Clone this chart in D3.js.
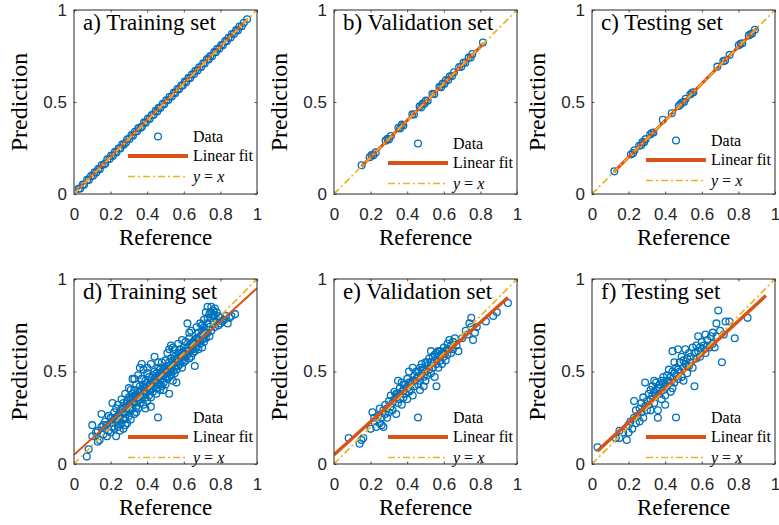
<!DOCTYPE html>
<html>
<head>
<meta charset="utf-8">
<script src="https://cdn.jsdelivr.net/npm/d3@7"></script>
<style>
  body { margin: 0; background: #fff; }
</style>
</head>
<body>
<svg id="chart" width="779" height="525"></svg>
<script>
// ---- data: [reference, prediction] ----
const trainA = [[0.025,0.028],[0.034,0.030],[0.048,0.052],[0.055,0.050],[0.072,0.078],[0.081,0.076],[0.093,0.097],[0.104,0.099],[0.112,0.118],[0.121,0.116],[0.133,0.137],[0.141,0.135],[0.152,0.158],[0.163,0.160],[0.171,0.166],[0.182,0.188],[0.194,0.190],[0.203,0.209],[0.212,0.207],[0.224,0.229],[0.232,0.226],[0.245,0.249],[0.253,0.247],[0.264,0.270],[0.272,0.268],[0.284,0.280],[0.291,0.297],[0.303,0.299],[0.314,0.320],[0.322,0.316],[0.333,0.338],[0.345,0.341],[0.352,0.358],[0.364,0.360],[0.371,0.366],[0.383,0.389],[0.392,0.387],[0.404,0.410],[0.413,0.408],[0.425,0.429],[0.434,0.430],[0.446,0.452],[0.455,0.449],[0.463,0.468],[0.472,0.467],[0.485,0.490],[0.493,0.488],[0.504,0.509],[0.515,0.511],[0.523,0.528],[0.534,0.530],[0.546,0.551],[0.553,0.548],[0.565,0.570],[0.574,0.569],[0.586,0.590],[0.594,0.589],[0.605,0.611],[0.613,0.608],[0.626,0.631],[0.635,0.630],[0.644,0.649],[0.656,0.652],[0.663,0.669],[0.675,0.671],[0.684,0.689],[0.695,0.690],[0.706,0.711],[0.714,0.709],[0.727,0.733],[0.736,0.731],[0.745,0.750],[0.754,0.749],[0.766,0.771],[0.775,0.770],[0.783,0.789],[0.794,0.790],[0.805,0.810],[0.813,0.808],[0.826,0.831],[0.835,0.830],[0.844,0.849],[0.856,0.851],[0.863,0.869],[0.874,0.870],[0.886,0.891],[0.895,0.889],[0.904,0.910],[0.917,0.912],[0.928,0.931],[0.946,0.950]];

const validB = [[0.151,0.156],[0.195,0.200],[0.205,0.212],[0.215,0.210],[0.228,0.226],[0.282,0.290],[0.292,0.300],[0.300,0.296],[0.311,0.315],[0.352,0.360],[0.361,0.356],[0.371,0.377],[0.379,0.372],[0.428,0.433],[0.437,0.432],[0.468,0.476],[0.476,0.470],[0.485,0.491],[0.494,0.490],[0.502,0.508],[0.512,0.507],[0.538,0.544],[0.548,0.543],[0.576,0.582],[0.585,0.580],[0.594,0.600],[0.603,0.598],[0.612,0.619],[0.624,0.620],[0.633,0.639],[0.645,0.641],[0.656,0.662],[0.684,0.690],[0.695,0.691],[0.708,0.714],[0.718,0.713],[0.736,0.741],[0.747,0.742],[0.756,0.761],[0.814,0.823]];

const testC = [[0.122,0.123],[0.213,0.215],[0.224,0.222],[0.232,0.238],[0.258,0.262],[0.268,0.265],[0.276,0.282],[0.285,0.281],[0.293,0.298],[0.318,0.323],[0.327,0.331],[0.336,0.334],[0.387,0.403],[0.436,0.439],[0.474,0.478],[0.483,0.487],[0.492,0.497],[0.503,0.500],[0.512,0.518],[0.537,0.541],[0.546,0.549],[0.554,0.553],[0.685,0.692],[0.718,0.722],[0.727,0.725],[0.752,0.756],[0.802,0.808],[0.812,0.816],[0.821,0.819],[0.857,0.862],[0.866,0.868],[0.875,0.872],[0.890,0.893]];

const trainD = [[0.07,0.04],[0.08,0.08],[0.10,0.21],[0.10,0.15],[0.12,0.17],[0.13,0.18],[0.14,0.13],[0.15,0.27],[0.15,0.20],[0.13,0.12],
  [0.16,0.16],[0.17,0.19],[0.17,0.23],[0.18,0.21],[0.18,0.15],[0.19,0.26],[0.19,0.18],[0.20,0.22],[0.20,0.17],[0.21,0.33],[0.21,0.25],[0.21,0.20],[0.22,0.28],[0.22,0.19],[0.22,0.24],[0.23,0.15],[0.23,0.30],[0.23,0.22],[0.24,0.26],[0.24,0.20],[0.24,0.32],[0.25,0.18],[0.25,0.28],[0.25,0.24],[0.16,0.21],
  [0.26,0.35],[0.26,0.22],[0.26,0.30],[0.27,0.27],[0.27,0.19],[0.27,0.33],[0.28,0.25],[0.28,0.31],[0.28,0.38],[0.29,0.28],[0.29,0.22],[0.29,0.34],[0.30,0.30],[0.30,0.26],[0.30,0.36],[0.30,0.41],[0.31,0.29],[0.31,0.33],[0.31,0.24],[0.32,0.46],[0.32,0.35],[0.32,0.30],[0.32,0.38],[0.33,0.27],[0.33,0.33],[0.33,0.40],[0.34,0.31],[0.34,0.36],[0.34,0.43],[0.34,0.28],[0.35,0.34],[0.35,0.39],[0.35,0.30],[0.28,0.21],[0.31,0.40],
  [0.36,0.52],[0.36,0.37],[0.36,0.33],[0.36,0.42],[0.37,0.35],[0.37,0.40],[0.37,0.46],[0.38,0.38],[0.38,0.32],[0.38,0.43],[0.38,0.51],[0.39,0.36],[0.39,0.41],[0.39,0.45],[0.40,0.39],[0.40,0.34],[0.40,0.44],[0.40,0.49],[0.41,0.42],[0.41,0.37],[0.41,0.47],[0.42,0.40],[0.42,0.45],[0.42,0.36],[0.42,0.54],[0.43,0.43],[0.43,0.48],[0.43,0.39],[0.44,0.58],[0.44,0.42],[0.44,0.46],[0.44,0.50],[0.45,0.41],[0.45,0.45],[0.45,0.38],[0.45,0.49],[0.39,0.30],[0.42,0.31],[0.37,0.54],
  [0.46,0.44],[0.46,0.48],[0.46,0.52],[0.47,0.43],[0.47,0.47],[0.47,0.51],[0.47,0.40],[0.48,0.46],[0.48,0.50],[0.48,0.55],[0.49,0.44],[0.49,0.48],[0.49,0.52],[0.50,0.47],[0.50,0.51],[0.50,0.43],[0.50,0.56],[0.51,0.49],[0.51,0.53],[0.51,0.46],[0.51,0.60],[0.52,0.38],[0.52,0.50],[0.52,0.55],[0.52,0.47],[0.53,0.52],[0.53,0.48],[0.53,0.57],[0.53,0.64],[0.54,0.50],[0.54,0.54],[0.54,0.45],[0.55,0.53],[0.55,0.58],[0.55,0.49],[0.55,0.62],[0.49,0.40],[0.56,0.44],[0.46,0.55],[0.48,0.42],
  [0.56,0.55],[0.56,0.51],[0.57,0.57],[0.57,0.53],[0.57,0.60],[0.58,0.54],[0.58,0.58],[0.58,0.62],[0.59,0.56],[0.59,0.52],[0.59,0.60],[0.60,0.58],[0.60,0.63],[0.60,0.55],[0.61,0.60],[0.61,0.56],[0.61,0.66],[0.62,0.59],[0.62,0.63],[0.62,0.76],[0.63,0.61],[0.63,0.57],[0.63,0.68],[0.64,0.62],[0.64,0.58],[0.64,0.72],[0.65,0.64],[0.65,0.60],[0.65,0.66],[0.66,0.53],
  [0.66,0.65],[0.66,0.61],[0.67,0.68],[0.67,0.63],[0.67,0.74],[0.68,0.66],[0.68,0.62],[0.68,0.71],[0.69,0.65],[0.69,0.69],[0.69,0.76],[0.70,0.67],[0.70,0.72],[0.70,0.63],[0.71,0.70],[0.71,0.66],[0.71,0.78],[0.72,0.73],[0.72,0.68],[0.72,0.82],[0.73,0.71],[0.73,0.76],[0.74,0.74],[0.74,0.69],[0.75,0.79],
  [0.75,0.72],[0.75,0.85],[0.76,0.77],[0.76,0.83],[0.77,0.74],[0.77,0.80],[0.78,0.78],[0.78,0.82],[0.79,0.75],[0.79,0.80],[0.80,0.79],[0.80,0.76],[0.81,0.77],[0.82,0.78],[0.83,0.80],[0.84,0.76],[0.85,0.79],[0.86,0.80],[0.88,0.81],[0.73,0.85],
  [0.30,0.32],[0.31,0.35],[0.32,0.33],[0.33,0.36],[0.34,0.34],[0.35,0.36],[0.36,0.39],[0.37,0.37],[0.38,0.41],[0.39,0.39],[0.40,0.42],[0.41,0.40],[0.42,0.43],[0.43,0.41],[0.44,0.44],[0.45,0.47],[0.46,0.46],[0.47,0.49],[0.48,0.48],[0.49,0.50],[0.50,0.49],[0.51,0.51],[0.52,0.53],[0.53,0.50],[0.54,0.56],[0.55,0.55],[0.56,0.57],[0.57,0.55],[0.58,0.60],[0.59,0.58],[0.60,0.61],[0.61,0.58],[0.62,0.61],[0.63,0.64],[0.64,0.65],[0.65,0.62],[0.66,0.67],[0.67,0.66],[0.68,0.68],[0.69,0.67],[0.70,0.70],[0.71,0.68],[0.72,0.71],[0.26,0.27],[0.27,0.24],[0.28,0.28],[0.29,0.31],[0.23,0.25],[0.24,0.23],[0.20,0.25],[0.73,0.79],[0.74,0.81],[0.76,0.80],[0.70,0.75],[0.71,0.74],[0.75,0.82],[0.77,0.84],[0.35,0.48],[0.33,0.46],[0.40,0.52],[0.52,0.62],[0.54,0.63],[0.57,0.65],[0.59,0.67],[0.63,0.71]];

const validE = [[0.08,0.14],[0.14,0.11],[0.16,0.14],[0.15,0.13],[0.20,0.19],[0.21,0.28],[0.22,0.23],[0.22,0.25],[0.23,0.20],[0.24,0.26],[0.25,0.22],[0.25,0.30],[0.26,0.25],[0.27,0.20],[0.27,0.29],[0.28,0.27],[0.28,0.32],[0.29,0.30],[0.29,0.25],[0.30,0.34],[0.30,0.28],[0.31,0.31],[0.31,0.37],[0.32,0.33],[0.32,0.29],[0.33,0.39],[0.33,0.35],[0.34,0.27],[0.34,0.36],[0.35,0.45],[0.35,0.38],[0.35,0.33],[0.36,0.41],[0.36,0.35],[0.37,0.39],[0.37,0.44],[0.37,0.32],[0.38,0.40],[0.38,0.36],[0.39,0.43],[0.39,0.38],[0.40,0.41],[0.40,0.35],[0.40,0.46],[0.41,0.50],[0.41,0.39],[0.42,0.44],[0.42,0.40],[0.43,0.45],[0.43,0.37],[0.44,0.48],[0.44,0.42],[0.45,0.46],[0.45,0.50],[0.46,0.43],[0.46,0.47],[0.47,0.52],[0.47,0.45],[0.47,0.40],[0.48,0.49],[0.48,0.54],[0.49,0.47],[0.49,0.51],[0.50,0.55],[0.50,0.45],[0.50,0.50],[0.51,0.48],[0.51,0.53],[0.52,0.57],[0.52,0.51],[0.53,0.49],[0.53,0.55],[0.54,0.58],[0.54,0.52],[0.55,0.47],[0.55,0.56],[0.56,0.60],[0.56,0.42],[0.56,0.54],[0.57,0.58],[0.57,0.52],[0.58,0.61],[0.58,0.56],[0.59,0.60],[0.59,0.54],[0.60,0.63],[0.60,0.58],[0.61,0.56],[0.61,0.61],[0.62,0.65],[0.62,0.59],[0.63,0.62],[0.63,0.67],[0.64,0.64],[0.64,0.60],[0.65,0.66],[0.65,0.62],[0.66,0.68],[0.67,0.64],[0.68,0.61],[0.70,0.68],[0.72,0.72],[0.73,0.70],[0.74,0.76],[0.75,0.79],[0.75,0.74],[0.76,0.67],[0.77,0.71],[0.78,0.74],[0.83,0.77],[0.87,0.80],[0.89,0.82],[0.95,0.87],[0.26,0.21],[0.43,0.52],[0.49,0.42],[0.53,0.61],
  [0.34,0.38],[0.36,0.38],[0.38,0.43],[0.41,0.44],[0.44,0.45],[0.46,0.50],[0.48,0.51],[0.51,0.55],[0.55,0.59],[0.57,0.61],[0.60,0.60],[0.62,0.62]];

const testF = [[0.03,0.09],[0.13,0.14],[0.15,0.14],[0.15,0.18],[0.17,0.17],[0.19,0.13],[0.20,0.17],[0.20,0.21],[0.21,0.23],[0.22,0.19],[0.23,0.34],[0.23,0.25],[0.24,0.22],[0.24,0.29],[0.25,0.26],[0.26,0.23],[0.26,0.30],[0.27,0.28],[0.27,0.33],[0.28,0.25],[0.28,0.36],[0.29,0.31],[0.29,0.44],[0.30,0.34],[0.30,0.29],[0.31,0.38],[0.31,0.32],[0.32,0.35],[0.32,0.40],[0.32,0.29],[0.33,0.37],[0.33,0.42],[0.34,0.39],[0.34,0.33],[0.35,0.44],[0.35,0.37],[0.36,0.41],[0.36,0.29],[0.36,0.25],[0.37,0.43],[0.37,0.38],[0.38,0.45],[0.38,0.35],[0.39,0.40],[0.39,0.47],[0.40,0.43],[0.40,0.37],[0.41,0.48],[0.41,0.42],[0.42,0.51],[0.42,0.45],[0.43,0.39],[0.43,0.47],[0.44,0.61],[0.44,0.50],[0.45,0.44],[0.45,0.55],[0.46,0.48],[0.46,0.52],[0.47,0.62],[0.47,0.46],[0.48,0.50],[0.48,0.55],[0.49,0.47],[0.49,0.58],[0.50,0.52],[0.50,0.45],[0.51,0.62],[0.51,0.54],[0.52,0.49],[0.52,0.57],[0.53,0.60],[0.53,0.53],[0.54,0.58],[0.55,0.63],[0.55,0.52],[0.56,0.42],[0.56,0.60],[0.57,0.64],[0.57,0.57],[0.58,0.61],[0.58,0.69],[0.59,0.58],[0.60,0.66],[0.60,0.62],[0.61,0.64],[0.62,0.70],[0.62,0.60],[0.63,0.67],[0.64,0.63],[0.65,0.69],[0.66,0.71],[0.66,0.65],[0.67,0.63],[0.68,0.69],[0.68,0.76],[0.69,0.83],[0.70,0.72],[0.71,0.55],[0.72,0.70],[0.73,0.77],[0.75,0.77],[0.78,0.68],[0.85,0.79],[0.40,0.32],[0.44,0.41],[0.34,0.45],
  [0.35,0.40],[0.37,0.41],[0.39,0.44],[0.41,0.45],[0.43,0.44],[0.45,0.49],[0.47,0.51],[0.50,0.56],[0.52,0.53],[0.54,0.55],[0.59,0.63],[0.63,0.64]];

const panelTitles = ["a) Training set", "b) Validation set", "c) Testing set",
                     "d) Training set", "e) Validation set", "f) Testing set"];
// linear fit: slope, intercept and the reference span it is drawn over
const fitSlope     = [1.000, 1.000, 1.000, 0.900, 0.895, 0.913];
const fitIntercept = [0.002, 0.000, 0.000, 0.050, 0.050, 0.043];
const fitFrom      = [0.02, 0.15, 0.12, 0.00, 0.00, 0.03];
const fitTo        = [0.95, 0.82, 0.90, 1.00, 0.95, 0.95];
const xTicks = [0, 0.2, 0.4, 0.6, 0.8, 1];
const yTicks = [0, 0.5, 1];
const legendNames = ["Data", "Linear fit"];

const datasets = [trainA, validB, testC, trainD, validE, testF];

// ---- layout ----
const colX = [74, 334, 592];
const rowY = [10, 279];
const W = 183;
const rowH = [184, 185];
const legendFitY = [146, 153, 150, 158, 158, 158];
const fitWidth = [2.5, 3, 3, 2, 3.5, 3.5];

const BLUE = "#0072BD", ORANGE = "#D95319", YELLOW = "#EDB120";
const serif = "'Liberation Serif','Times New Roman',serif";
const sans = "'Liberation Sans',Arial,Helvetica,sans-serif";
const dashDot = "7,3,2,3";

const svg = d3.select("#chart");

datasets.forEach((data, i) => {
  const col = i % 3, row = Math.floor(i / 3);
  const h = rowH[row];
  const g = svg.append("g").attr("transform", `translate(${colX[col]},${rowY[row]})`);

  const x = d3.scaleLinear().domain([0, 1]).range([0, W]);
  const y = d3.scaleLinear().domain([0, 1]).range([h, 0]);

  // axes with inward ticks on all four sides
  const fmt = d3.format("");
  const bottom = g.append("g").attr("transform", `translate(0,${h})`)
    .call(d3.axisBottom(x).tickValues(xTicks).tickSizeInner(-2.5).tickSizeOuter(0).tickPadding(14).tickFormat(fmt));
  const left = g.append("g")
    .call(d3.axisLeft(y).tickValues(yTicks).tickSizeInner(-2.5).tickSizeOuter(0).tickPadding(7).tickFormat(fmt));
  g.append("g")
    .call(d3.axisTop(x).tickValues(xTicks).tickSizeInner(-2.5).tickSizeOuter(0).tickFormat(""));
  g.append("g").attr("transform", `translate(${W},0)`)
    .call(d3.axisRight(y).tickValues(yTicks).tickSizeInner(-2.5).tickSizeOuter(0).tickFormat(""));
  g.selectAll(".domain").remove();
  g.selectAll(".tick line").attr("stroke", "#262626").attr("stroke-width", 0.8);
  [bottom, left].forEach(a => a.selectAll("text")
    .attr("font-family", sans).attr("font-size", 17).attr("fill", "#262626"));

  const clipId = "clip" + i;
  g.append("clipPath").attr("id", clipId)
    .append("rect").attr("width", W).attr("height", h);
  const plot = g.append("g").attr("clip-path", `url(#${clipId})`);

  // data circles
  plot.selectAll("circle").data(data).enter().append("circle")
    .attr("cx", d => x(d[0])).attr("cy", d => y(d[1])).attr("r", 3.4)
    .attr("fill", "none").attr("stroke", BLUE).attr("stroke-width", 1.3);

  // linear fit
  const fitPts = [fitFrom[i], fitTo[i]].map(v => [v, fitIntercept[i] + fitSlope[i] * v]);
  plot.append("path").attr("d", d3.line().x(d => x(d[0])).y(d => y(d[1]))(fitPts))
    .attr("stroke", ORANGE).attr("stroke-width", fitWidth[i]).attr("fill", "none");

  // y = x reference line
  plot.append("path").attr("d", d3.line().x(d => x(d[0])).y(d => y(d[1]))([[0, 0], [1, 1]]))
    .attr("stroke", YELLOW).attr("stroke-width", 1.7).attr("fill", "none")
    .attr("stroke-dasharray", dashDot);

  // box
  g.append("rect").attr("width", W).attr("height", h)
    .attr("fill", "none").attr("stroke", "#262626").attr("stroke-width", 1);

  // title inside the box
  g.append("text").attr("x", 9).attr("y", 19.5)
    .attr("font-family", serif).attr("font-size", 23).attr("fill", "#000")
    .text(panelTitles[i]);

  // axis labels
  g.append("text").attr("x", W / 2).attr("y", h + 51).attr("text-anchor", "middle")
    .attr("font-family", serif).attr("font-size", 23).text("Reference");
  g.append("text").attr("transform", `translate(-47,${h / 2}) rotate(-90)`)
    .attr("text-anchor", "middle")
    .attr("font-family", serif).attr("font-size", 24).text("Prediction");

  // legend
  const fy = legendFitY[i];
  const rows = [fy - 19.5, fy, fy + 20.5];
  const lg = g.append("g");
  lg.append("circle").attr("cx", 84).attr("cy", rows[0]).attr("r", 3.4)
    .attr("fill", "none").attr("stroke", BLUE).attr("stroke-width", 1.3);
  lg.append("line").attr("x1", 54).attr("x2", 114).attr("y1", rows[1]).attr("y2", rows[1])
    .attr("stroke", ORANGE).attr("stroke-width", 4);
  lg.append("line").attr("x1", 54).attr("x2", 114).attr("y1", rows[2]).attr("y2", rows[2])
    .attr("stroke", YELLOW).attr("stroke-width", 1.7).attr("stroke-dasharray", dashDot);
  legendNames.forEach((name, k) => {
    lg.append("text").attr("x", 119).attr("y", rows[k]).attr("dy", "0.33em")
      .attr("font-family", serif).attr("font-size", 16).text(name);
  });
  const eq = lg.append("text").attr("x", 119).attr("y", rows[2]).attr("dy", "0.33em")
    .attr("font-family", serif).attr("font-size", 16);
  eq.append("tspan").attr("font-style", "italic").text("y");
  eq.append("tspan").text(" = ");
  eq.append("tspan").attr("font-style", "italic").text("x");
});
</script>
</body>
</html>
